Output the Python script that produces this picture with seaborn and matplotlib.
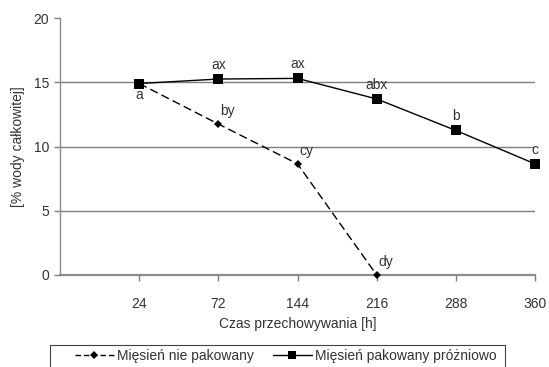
import matplotlib
matplotlib.use("Agg")
import matplotlib.pyplot as plt
from matplotlib.lines import Line2D
from matplotlib.patches import Rectangle
import seaborn as sns
import pandas as pd

sns.set_theme(style="white")
plt.rcParams["font.family"] = ["Liberation Sans", "DejaVu Sans"]

hours = ["24", "72", "144", "216", "288", "360"]
unpacked = [14.9, 11.75, 8.65, 0.0]
vacuum = [14.9, 15.25, 15.3, 13.7, 11.25, 8.65]
unpacked_labels = ["a", "by", "cy", "dy"]
vacuum_labels = ["", "ax", "ax", "abx", "b", "c"]

name_unpacked = "Mięsień nie pakowany"
name_vacuum = "Mięsień pakowany próżniowo"

pos = list(range(1, len(hours) + 1))
df = pd.concat([
    pd.DataFrame({"pos": pos[:len(unpacked)], "val": unpacked, "grupa": name_unpacked}),
    pd.DataFrame({"pos": pos, "val": vacuum, "grupa": name_vacuum}),
])

fig = plt.figure(figsize=(5.49, 3.67), dpi=100)
ax = fig.add_axes([60 / 549, 1 - 275 / 367, 475 / 549, 257 / 367])

txt = "#333333"
fs = 10
for yv in (5, 10, 15):
    ax.axhline(yv, color="#7f7f7f", lw=1.0, zorder=0)

sns.lineplot(data=df, x="pos", y="val", hue="grupa", style="grupa",
             palette={name_unpacked: "black", name_vacuum: "black"},
             dashes={name_unpacked: (6, 3), name_vacuum: ""},
             markers={name_unpacked: "D", name_vacuum: "s"},
             ax=ax, lw=1.0, markeredgewidth=0, legend=False, clip_on=False, zorder=3)
for line in ax.get_lines():
    if line.get_linestyle() == "--":
        line.set_markersize(4)
    else:
        line.set_markersize(6.5)

ax.set_xlim(0, 6)
ax.set_ylim(0, 20)
ax.set_yticks([0, 5, 10, 15, 20])
ax.set_xticks(pos)
ax.set_xticklabels(hours)
ax.tick_params(axis="both", labelsize=fs, colors=txt, length=4, width=1,
               direction="out", left=True, bottom=True, pad=3)
ax.tick_params(axis="x", pad=12, color="#7f7f7f")
ax.tick_params(axis="y", color="#7f7f7f", pad=4)
for side in ("top", "right"):
    ax.spines[side].set_visible(False)
ax.spines["left"].set_color("#8c8c8c")
ax.spines["bottom"].set_color("#8c8c8c")
ax.spines["bottom"].set_linewidth(1.6)
ax.spines["left"].set_linewidth(1.0)

ax.set_xlabel("Czas przechowywania [h]", fontsize=fs, color=txt, labelpad=4)
ax.set_ylabel("[% wody całkowitej]", fontsize=fs, color=txt, labelpad=6)

for p, v, lab in zip(pos, unpacked, unpacked_labels):
    if lab == "a":
        ax.annotate(lab, (p, v), xytext=(0, -3), textcoords="offset points",
                    ha="center", va="top", fontsize=fs, color=txt)
    else:
        ax.annotate(lab, (p, v), xytext=(1, 4), textcoords="offset points",
                    ha="left", va="bottom", fontsize=fs, color=txt)
for p, v, lab in zip(pos, vacuum, vacuum_labels):
    if lab:
        ax.annotate(lab, (p, v), xytext=(0, 5), textcoords="offset points",
                    ha="center", va="bottom", fontsize=fs, color=txt)

# legend frame runs off the bottom edge of the figure
fig.patches.append(Rectangle((50 / 549, -0.05), (505 - 50) / 549, 0.05 + (367 - 345) / 367,
                             transform=fig.transFigure, fill=False,
                             edgecolor="#444444", lw=0.8))
handles = [
    Line2D([], [], color="black", ls=(0, (4, 2)), lw=1.0, marker="D", markersize=4, markeredgewidth=0),
    Line2D([], [], color="black", ls="-", lw=1.0, marker="s", markersize=6, markeredgewidth=0),
]
leg = fig.legend(handles, [name_unpacked, name_vacuum], loc="center left",
                 bbox_to_anchor=(68 / 549, 1 - 356 / 367), ncol=2, frameon=False,
                 fontsize=fs, handlelength=2.8, handletextpad=0.2,
                 columnspacing=1.4, borderpad=0.0)
for t in leg.get_texts():
    t.set_color(txt)

fig.savefig("out.png", dpi=100)
